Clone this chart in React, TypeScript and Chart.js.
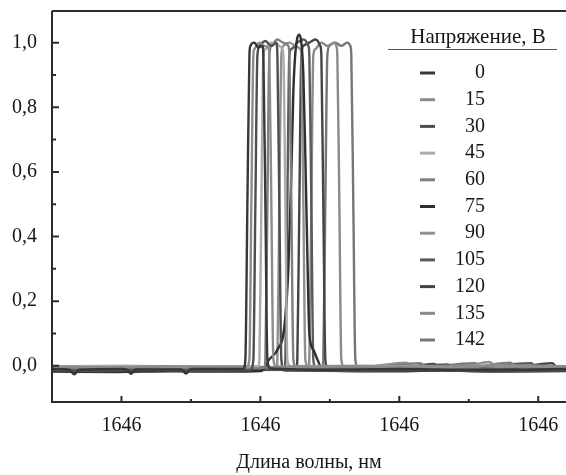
import React, { useEffect, useRef } from "react";
import { Chart, registerables } from "chart.js";

Chart.register(...registerables);

// ---------- data ----------
const voltages = ["0", "15", "30", "45", "60", "75", "90", "105", "120", "135", "142"];
const seriesColors = [
  "#383838", "#8c8c8c", "#4e4e4e", "#ababab", "#7e7e7e", "#2f2f2f",
  "#909090", "#5a5a5a", "#444444", "#8a8a8a", "#767676",
];
const legendTitle = "Напряжение, В";
const xAxisTitle = "Длина волны, нм";
const xTickValues = [1645.8, 1646.0, 1646.2, 1646.4];
const xMinorTickValues = [1645.9, 1646.1, 1646.3];
const yTickValues = [0, 0.2, 0.4, 0.6, 0.8, 1.0];
const yMinorTickValues = [0.1, 0.3, 0.5, 0.7, 0.9];

type P = [number, number];

const s0: P[] = [
  [1645.70, -0.010], [1645.725, -0.012], [1645.732, -0.026], [1645.739, -0.012],
  [1645.80, -0.010], [1645.808, -0.012], [1645.814, -0.025], [1645.820, -0.011],
  [1645.886, -0.011], [1645.893, -0.024], [1645.900, -0.010], [1645.9755, -0.010],
  [1645.9784, 0.02], [1645.9813, 0.5], [1645.9842, 0.96], [1645.9856, 0.99],
  [1645.9914, 1.0], [1645.9971, 0.985], [1646.0029, 0.99], [1646.0043, 0.96],
  [1646.0072, 0.5], [1646.0101, 0.02], [1646.0144, -0.008], [1646.10, -0.012],
  [1646.20, -0.010], [1646.30, -0.013], [1646.44, -0.010],
];
const s15: P[] = [
  [1645.70, -0.002], [1645.78, -0.004], [1645.86, -0.001], [1645.94, -0.003],
  [1645.9799, -0.003], [1645.9842, 0.02], [1645.9870, 0.5], [1645.9899, 0.96],
  [1645.9914, 0.98], [1645.9986, 1.0], [1646.0057, 0.99], [1646.0115, 0.985],
  [1646.0129, 0.96], [1646.0158, 0.5], [1646.0187, 0.02], [1646.0230, -0.002],
  [1646.12, -0.001], [1646.22, -0.003], [1646.30, 0.0], [1646.38, -0.002], [1646.44, -0.001],
];
const s30: P[] = [
  [1645.70, -0.014], [1645.76, -0.016], [1645.84, -0.013], [1645.92, -0.016],
  [1645.9856, -0.014], [1645.9899, 0.02], [1645.9928, 0.5], [1645.9957, 0.96],
  [1645.9986, 0.99], [1646.0072, 1.005], [1646.0158, 0.99], [1646.0230, 1.0],
  [1646.0245, 0.96], [1646.0273, 0.5], [1646.0302, 0.02], [1646.0345, -0.015],
  [1646.14, -0.016], [1646.24, -0.014], [1646.34, -0.017], [1646.44, -0.015],
];
const s45: P[] = [
  [1645.70, -0.002], [1645.80, 0.0], [1645.90, -0.002], [1645.9971, -0.001],
  [1645.9986, 0.02], [1646.0014, 0.5], [1646.0043, 0.96], [1646.0072, 0.98],
  [1646.0158, 1.0], [1646.0245, 0.995], [1646.0316, 0.98], [1646.0331, 0.96],
  [1646.0360, 0.5], [1646.0388, 0.02], [1646.0432, -0.001],
  [1646.15, 0.0], [1646.25, -0.002], [1646.35, 0.0], [1646.44, -0.001],
];
const s60: P[] = [
  [1645.70, -0.006], [1645.77, -0.008], [1645.85, -0.005], [1645.93, -0.007],
  [1646.0057, -0.006], [1646.0072, 0.02], [1646.0101, 0.5], [1646.0129, 0.96],
  [1646.0158, 0.99], [1646.0245, 1.01], [1646.0331, 1.0], [1646.0403, 0.99],
  [1646.0417, 0.96], [1646.0446, 0.5], [1646.0475, 0.02], [1646.0518, -0.006],
  [1646.16, -0.004], [1646.23, 0.008], [1646.24, -0.004], [1646.30, -0.005],
  [1646.36, 0.010], [1646.37, -0.005], [1646.44, -0.006],
];
const s75: P[] = [
  [1645.70, -0.018], [1645.79, -0.019], [1645.87, -0.017], [1645.95, -0.018],
  [1646.0014, -0.016], [1646.0129, 0.02], [1646.0245, 0.05], [1646.0345, 0.12],
  [1646.0403, 0.3], [1646.0446, 0.6], [1646.0475, 0.85], [1646.0504, 0.97],
  [1646.0532, 1.015], [1646.0561, 1.025], [1646.0590, 1.0], [1646.0619, 0.9],
  [1646.0647, 0.65], [1646.0676, 0.35], [1646.0705, 0.1], [1646.0762, 0.05],
  [1646.0820, 0.02], [1646.0906, -0.014],
  [1646.18, -0.017], [1646.26, -0.015], [1646.34, -0.018], [1646.44, -0.016],
];
const s90: P[] = [
  [1645.70, -0.005], [1645.78, -0.003], [1645.86, -0.006], [1645.94, -0.004],
  [1646.0230, -0.005], [1646.0245, 0.02], [1646.0273, 0.5], [1646.0302, 0.96],
  [1646.0331, 0.99], [1646.0417, 1.0], [1646.0504, 0.99], [1646.0575, 0.98],
  [1646.0590, 0.96], [1646.0619, 0.5], [1646.0647, 0.02], [1646.0691, -0.004],
  [1646.15, -0.003], [1646.21, 0.010], [1646.22, -0.004], [1646.29, -0.003],
  [1646.33, 0.012], [1646.34, -0.004], [1646.44, -0.004],
];
const s105: P[] = [
  [1645.70, -0.011], [1645.76, -0.010], [1645.84, -0.012], [1645.92, -0.010],
  [1646.0345, -0.011], [1646.0360, 0.02], [1646.0388, 0.5], [1646.0417, 0.96],
  [1646.0446, 0.98], [1646.0532, 1.0], [1646.0619, 1.01], [1646.0691, 0.99],
  [1646.0705, 0.96], [1646.0734, 0.5], [1646.0762, 0.02], [1646.0806, -0.010],
  [1646.17, -0.011], [1646.27, 0.004], [1646.28, -0.010], [1646.39, 0.008],
  [1646.40, -0.011], [1646.44, -0.010],
];
const s120: P[] = [
  [1645.70, -0.013], [1645.80, -0.011], [1645.90, -0.013], [1646.0518, -0.012],
  [1646.0532, 0.02], [1646.0561, 0.5], [1646.0590, 0.96], [1646.0619, 0.99],
  [1646.0705, 1.0], [1646.0791, 1.01], [1646.0863, 0.99], [1646.0878, 0.96],
  [1646.0906, 0.5], [1646.0935, 0.02], [1646.0978, -0.012],
  [1646.19, -0.011], [1646.25, 0.006], [1646.26, -0.012], [1646.35, -0.011],
  [1646.42, 0.008], [1646.43, -0.012], [1646.44, -0.012],
];
const s135: P[] = [
  [1645.70, -0.003], [1645.82, -0.005], [1645.94, -0.003], [1646.0691, -0.004],
  [1646.0705, 0.02], [1646.0734, 0.5], [1646.0762, 0.96], [1646.0791, 0.98],
  [1646.0878, 1.0], [1646.0964, 0.99], [1646.1065, 1.0], [1646.1093, 0.99],
  [1646.1108, 0.96], [1646.1137, 0.5], [1646.1165, 0.02], [1646.1209, -0.004],
  [1646.20, -0.003], [1646.30, -0.005], [1646.38, 0.006], [1646.39, -0.004], [1646.44, -0.003],
];
const s142: P[] = [
  [1645.70, -0.008], [1645.75, -0.007], [1645.83, -0.009], [1645.91, -0.007],
  [1646.0892, -0.008], [1646.0906, 0.02], [1646.0935, 0.5], [1646.0964, 0.96],
  [1646.0993, 0.99], [1646.1079, 1.0], [1646.1165, 0.99], [1646.1252, 1.0],
  [1646.1295, 0.99], [1646.1309, 0.96], [1646.1338, 0.5], [1646.1367, 0.02],
  [1646.1410, -0.008], [1646.22, -0.007], [1646.31, 0.008], [1646.32, -0.008],
  [1646.41, -0.007], [1646.44, -0.008],
];
const allSeries: P[][] = [s0, s15, s30, s45, s60, s75, s90, s105, s120, s135, s142];

const FONT = '"Liberation Serif", "Times New Roman", serif';
const TEXT = "#161616";
const AXIS = "#2b2b2b";

const framePlugin = {
  id: "frameTicks",
  afterDatasetsDraw(chart: any) {
    const { ctx, chartArea, scales } = chart;
    const { left, right, top, bottom } = chartArea;
    const x = scales.x;
    const y = scales.y;
    ctx.save();
    ctx.strokeStyle = AXIS;
    ctx.lineWidth = 2;
    ctx.beginPath();
    ctx.moveTo(left, top);
    ctx.lineTo(right, top);
    ctx.moveTo(left, top);
    ctx.lineTo(left, bottom);
    ctx.lineTo(right, bottom);
    ctx.stroke();
    ctx.beginPath();
    xTickValues.forEach((v) => {
      const p = x.getPixelForValue(v);
      ctx.moveTo(p, bottom);
      ctx.lineTo(p, bottom - 6);
    });
    xMinorTickValues.forEach((v) => {
      const p = x.getPixelForValue(v);
      ctx.moveTo(p, bottom);
      ctx.lineTo(p, bottom - 3);
    });
    yTickValues.forEach((v) => {
      const p = y.getPixelForValue(v);
      ctx.moveTo(left, p);
      ctx.lineTo(left + 7, p);
    });
    yMinorTickValues.forEach((v) => {
      const p = y.getPixelForValue(v);
      ctx.moveTo(left, p);
      ctx.lineTo(left + 4, p);
    });
    ctx.stroke();
    ctx.restore();
  },
};

const legendPlugin = {
  id: "voltLegend",
  afterDraw(chart: any) {
    const { ctx } = chart;
    ctx.save();
    ctx.font = `21px ${FONT}`;
    ctx.fillStyle = TEXT;
    ctx.textAlign = "center";
    ctx.textBaseline = "middle";
    ctx.fillText(legendTitle, 478, 37);
    ctx.strokeStyle = "#555";
    ctx.lineWidth = 1;
    ctx.beginPath();
    ctx.moveTo(388, 49.5);
    ctx.lineTo(557, 49.5);
    ctx.stroke();
    ctx.font = `20px ${FONT}`;
    chart.data.datasets.forEach((ds: any, i: number) => {
      const yy = 73 + i * 26.7;
      ctx.strokeStyle = ds.borderColor;
      ctx.lineWidth = 3;
      ctx.beginPath();
      ctx.moveTo(420, yy);
      ctx.lineTo(435, yy);
      ctx.stroke();
      ctx.textAlign = "right";
      ctx.fillStyle = TEXT;
      ctx.fillText(ds.label, 485, yy);
    });
    ctx.restore();
  },
};

export default function App() {
  const ref = useRef<HTMLCanvasElement | null>(null);
  useEffect(() => {
    if (!ref.current) return;
    Chart.defaults.font.family = FONT;
    const chart = new Chart(ref.current, {
      type: "line",
      data: {
        datasets: allSeries.map((s, i) => ({
          label: voltages[i],
          data: s.map(([x, y]) => ({ x, y })),
          borderColor: seriesColors[i],
          backgroundColor: seriesColors[i],
          borderWidth: 2.4,
          pointRadius: 0,
          fill: false,
          cubicInterpolationMode: "monotone" as const,
        })),
      },
      options: {
        responsive: false,
        animation: false,
        devicePixelRatio: 1,
        layout: { padding: { top: 11, right: 0, left: 0, bottom: 0 } },
        plugins: { legend: { display: false }, tooltip: { enabled: false } },
        scales: {
          x: {
            type: "linear",
            min: 1645.7,
            max: 1646.44,
            afterBuildTicks: (s: any) => {
              s.ticks = xTickValues.map((v) => ({ value: v }));
            },
            afterFit: (s: any) => {
              s.height = 73;
              s.paddingLeft = 0;
              s.paddingRight = 0;
            },
            grid: { display: false, drawTicks: false },
            border: { display: false },
            ticks: {
              padding: 12,
              color: TEXT,
              font: { size: 20, family: FONT },
              maxRotation: 0,
              callback: (v: any) => Number(v).toFixed(0),
            },
            title: {
              display: true,
              text: xAxisTitle,
              color: TEXT,
              font: { size: 20, family: FONT },
              padding: { top: 0, bottom: 0 },
            },
          },
          y: {
            type: "linear",
            min: -0.112,
            max: 1.098,
            afterBuildTicks: (s: any) => {
              s.ticks = yTickValues.map((v) => ({ value: v }));
            },
            afterFit: (s: any) => {
              s.width = 52;
              s.paddingTop = 0;
              s.paddingBottom = 0;
            },
            grid: { display: false, drawTicks: false },
            border: { display: false },
            ticks: {
              padding: 15,
              color: TEXT,
              font: { size: 20, family: FONT },
              callback: (v: any) => Number(v).toFixed(1).replace(".", ","),
            },
          },
        },
      },
      plugins: [framePlugin, legendPlugin],
    });
    return () => chart.destroy();
  }, []);
  return (
    <div style={{ position: "absolute", left: 0, top: 0, width: 566, height: 475, background: "#fff" }}>
      <canvas ref={ref} width={566} height={475} style={{ display: "block" }} />
    </div>
  );
}
